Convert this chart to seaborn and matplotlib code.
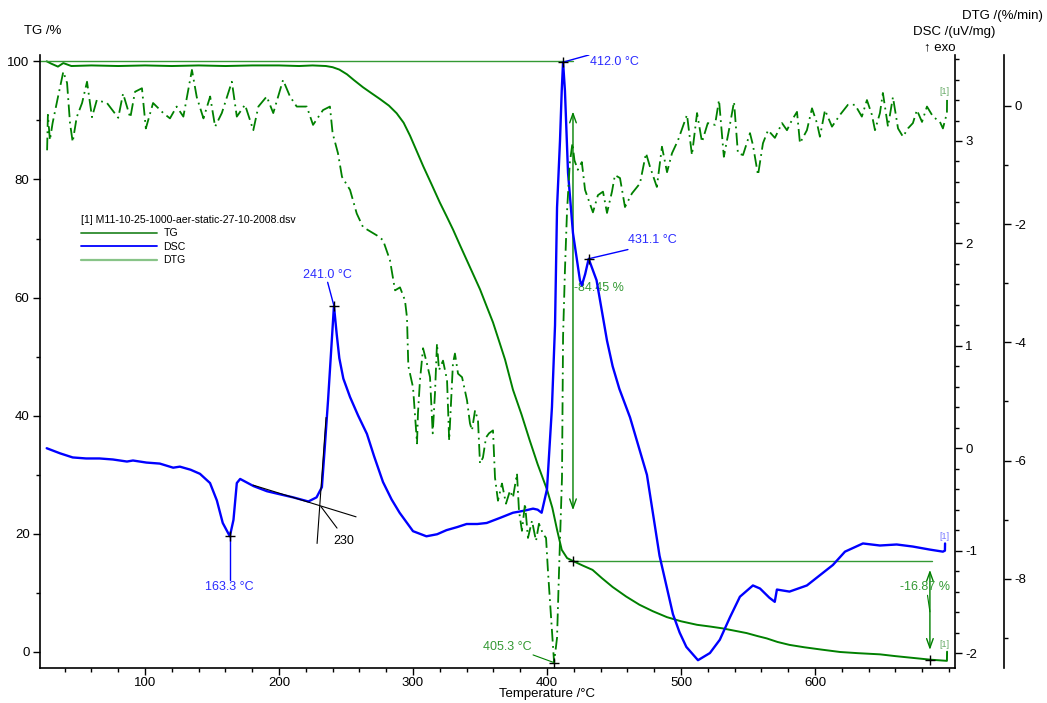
import matplotlib
matplotlib.use("Agg")
import matplotlib.pyplot as plt
import seaborn as sns
from matplotlib.lines import Line2D
from matplotlib.ticker import MultipleLocator

# ---- data ----
tg_temp = [26.6, 30, 35, 39, 45, 60, 80, 100, 120, 140, 160, 180, 200, 215, 225,
           235, 240, 245, 250.7, 256, 262.7, 269, 275.4, 282, 287.8, 293, 297.8,
           302, 307.7, 314, 320, 325, 329.9, 335, 340, 345, 350, 355, 359.7, 364,
           368.7, 374.6, 381, 387, 393, 400, 404, 407.5, 411, 415, 419.4, 427,
           434, 441, 449, 459, 469, 479, 489.5, 500, 512, 522, 531, 540, 549, 557,
           564, 572, 581, 592, 605, 618.7, 632, 648.5, 660, 673, 686, 698.5, 698.6]
tg_mass = [100.0, 99.6, 99.1, 99.7, 99.2, 99.3, 99.2, 99.3, 99.2, 99.3, 99.2, 99.3,
           99.3, 99.2, 99.3, 99.2, 99.0, 98.6, 97.8, 96.8, 95.6, 94.6, 93.6, 92.5,
           91.2, 89.6, 87.4, 85.2, 82.2, 79.1, 76.1, 73.8, 71.5, 68.9, 66.4, 63.9,
           61.4, 58.5, 55.8, 52.8, 49.5, 44.4, 40.2, 35.9, 31.8, 27.5, 24.4, 20.7,
           17.3, 15.9, 15.4, 14.6, 13.9, 12.5, 11.0, 9.4, 8.0, 6.9, 5.9, 5.2, 4.6,
           4.3, 4.0, 3.6, 3.2, 2.7, 2.3, 1.7, 1.2, 0.8, 0.4, 0.0, -0.2, -0.4,
           -0.7, -1.0, -1.3, -1.5, 0.05]

dsc_temp = [26.6, 36.6, 46, 56, 66, 76, 86.5, 91, 101, 111, 121, 126, 134, 141,
            148.5, 153.6, 158, 163.3, 166, 168.5, 171, 181, 191, 200.7, 210.6,
            221.9, 228, 232, 234, 236.6, 241.0, 243, 245, 248, 253, 259, 265.6, 271,
            277.6, 284, 290, 300, 310, 318, 325, 333, 340, 348, 355, 365, 374.6,
            383, 389.6, 393, 396, 400, 403.7, 406, 407.5, 409.7, 411, 412.0, 413.4,
            415.7, 419.4, 424.6, 426, 428.5, 431.1, 437, 444.8, 449, 454, 462,
            474.6, 484, 494, 499, 504, 512.7, 521.6, 529, 536.6, 544, 553.7, 559,
            566, 570, 571.6, 581, 594, 603.7, 613.4, 622.4, 635.8, 648.5, 661, 673,
            685.8, 695.5, 697, 697.1]
dsc_val = [0.00, -0.05, -0.09, -0.10, -0.10, -0.11, -0.13, -0.12, -0.14, -0.15,
           -0.19, -0.18, -0.21, -0.25, -0.34, -0.51, -0.73, -0.86, -0.70, -0.34,
           -0.30, -0.37, -0.42, -0.45, -0.48, -0.52, -0.48, -0.38, -0.02, 0.47,
           1.39, 1.12, 0.88, 0.68, 0.50, 0.32, 0.14, -0.08, -0.33, -0.50, -0.63, -0.81,
           -0.86, -0.84, -0.80, -0.77, -0.74, -0.74, -0.73, -0.68, -0.63, -0.61,
           -0.59, -0.60, -0.63, -0.40, 0.40, 1.20, 2.35, 3.00, 3.49, 3.77, 3.49,
           2.69, 2.10, 1.64, 1.59, 1.70, 1.85, 1.64, 1.05, 0.80, 0.58, 0.30,
           -0.26, -1.05, -1.62, -1.80, -1.94, -2.07, -2.00, -1.87, -1.65, -1.45,
           -1.34, -1.37, -1.46, -1.50, -1.38, -1.40, -1.34, -1.24, -1.14, -1.01,
           -0.93, -0.95, -0.94, -0.96, -0.99, -1.01, -1.00, -0.93]

dtg_temp = [26.9, 27.5, 29, 31, 35, 39, 41.8, 44, 46, 49, 53, 56.7, 60.4, 64, 71.6,
            80, 83.6, 89, 92.5, 97.7, 100.6, 106, 113.6, 118.6, 123.6, 128.6, 135,
            138.6, 143.6, 148.6, 152.3, 157.3, 164.8, 168.5, 174.6, 180.8, 184.6,
            190.8, 195.7, 203, 208.2, 213.2, 220.7, 225.4, 232.8, 238, 240, 244,
            247, 253, 258, 262.7, 273, 277.6, 282.8, 286.6, 290.3, 294, 295.5,
            296.5, 300, 303, 303.7, 305.2, 307.5, 310.4, 312.7, 314.7, 316.4,
            317.9, 319.4, 322.4, 325.4, 327, 329.8, 331.3, 333.6, 336.6, 340.3,
            342.5, 344, 346.3, 348.5, 350, 352.2, 354.5, 356.7, 359.7, 361.2,
            363.4, 366.4, 369.4, 372.4, 374.6, 377.6, 379.1, 381.3, 383.6, 385.8,
            388.8, 391.8, 394, 397, 399.3, 400.7, 403.7, 405.3, 407.5, 409, 411.2,
            412, 413.4, 414.9, 417, 419, 420.5, 423, 426, 428.4, 434.3, 438, 441.8,
            444.8, 448.5, 450.7, 454.5, 458.2, 463.4, 469.4, 473.9, 476.9, 482,
            485.8, 489.6, 493.3, 497.8, 504.5, 508.2, 512, 515.7, 520, 525.4,
            528.4, 532, 535.8, 539.6, 542.5, 546.3, 551.5, 553.7, 557.5, 561.2,
            565, 570.1, 575.4, 579.1, 582.8, 586.6, 588.8, 594, 597.8, 601.5,
            603.7, 607.5, 612.7, 618.7, 624.6, 629.9, 635, 638.8, 642.5, 644.8,
            648.5, 650.7, 654.5, 658.2, 662, 665.7, 669.4, 673.1, 676.1, 679.9,
            683.6, 688.1, 693.3, 695.5, 698.5, 698.6]
dtg_val = [-0.75, -0.15, -0.58, -0.29, 0.15, 0.58, 0.39, -0.29, -0.61, -0.19,
           0.05, 0.41, -0.19, 0.10, 0.05, -0.20, 0.21, -0.20, 0.24, 0.30, -0.38,
           0.05, -0.12, -0.21, -0.01, -0.18, 0.61, 0.15, -0.21, 0.16, -0.35,
           -0.12, 0.41, -0.18, 0.02, -0.41, -0.01, 0.16, -0.12, 0.44, 0.16, -0.01,
           -0.01, -0.32, -0.07, -0.01, -0.46, -0.80, -1.20, -1.42, -1.82, -2.05,
           -2.19, -2.27, -2.61, -3.12, -3.07, -3.29, -3.58, -4.40, -4.76, -5.71,
           -5.20, -4.64, -4.10, -4.36, -4.59, -5.54, -4.86, -4.02, -4.47, -4.31,
           -4.64, -5.66, -4.36, -4.19, -4.53, -4.59, -4.98, -5.37, -5.49, -5.15,
           -5.32, -6.05, -5.95, -5.61, -5.54, -5.49, -6.29, -6.68, -6.39, -6.73,
           -6.51, -6.63, -6.22, -6.85, -7.19, -6.73, -7.31, -7.02, -7.36, -7.07,
           -7.24, -7.31, -7.86, -8.88, -9.42, -9.00, -7.86, -6.29, -3.90, -2.78,
           -1.81, -0.97, -0.63, -0.92, -1.08, -0.95, -1.42, -1.80, -1.51, -1.45,
           -1.81, -1.45, -1.17, -1.22, -1.71, -1.48, -1.31, -0.80, -1.03, -1.37,
           -0.69, -1.12, -0.80, -0.58, -0.15, -0.83, -0.12, -0.61, -0.29, -0.32,
           0.10, -0.86, -0.41, 0.07, -0.80, -0.83, -0.46, -0.66, -1.17, -0.63,
           -0.41, -0.54, -0.29, -0.41, -0.24, -0.10, -0.63, -0.41, -0.04, -0.29,
           -0.52, -0.07, -0.35, -0.15, 0.02, 0.02, -0.18, 0.10, -0.15, -0.41,
           -0.12, 0.22, -0.35, 0.15, -0.38, -0.52, -0.38, -0.29, -0.07, -0.27,
           -0.01, -0.18, -0.27, -0.38, -0.12, 0.14]

# peak / step annotations
dsc_peaks_temp = [163.3, 241.0, 412.0, 431.1]
dsc_peaks_val = [-0.86, 1.39, 3.77, 1.85]
dtg_peak_temp = 405.3
dtg_peak_val = -9.42
tg_step_temps = [419.4, 685.8]
tg_step_levels = [100.0, 15.45, -1.42]
tg_step_labels = ["-84.45 %", "-16.87 %"]
onset_label = "230"

GREEN = "#008000"
LGREEN = "#339933"
BLUE = "#0000ff"
LBLUE = "#2b2bff"
FS = 9.5

sns.set_style("ticks", {"axes.edgecolor": "black", "xtick.color": "black",
                        "ytick.color": "black", "text.color": "black"})
plt.rcParams["font.family"] = ["Liberation Sans", "DejaVu Sans"]
plt.rcParams["font.size"] = FS
plt.rcParams["axes.unicode_minus"] = False

fig = plt.figure(figsize=(10.47, 7.03), dpi=100)
ax = fig.add_axes([0.0382, 0.0498, 0.8739, 0.872])
ax2 = ax.twinx()
ax3 = ax.twinx()
ax3.spines["right"].set_position(("axes", 1.0536))

sns.lineplot(x=tg_temp, y=tg_mass, ax=ax, color=GREEN, lw=1.4,
             sort=False, estimator=None)
sns.lineplot(x=dsc_temp, y=dsc_val, ax=ax2, color=BLUE, lw=1.7,
             sort=False, estimator=None)
sns.lineplot(x=dtg_temp, y=dtg_val, ax=ax3, color=GREEN, lw=1.3,
             sort=False, estimator=None, linestyle=(0, (7, 2.5, 1, 2.5)))

ax.set_xlim(21.6, 704.5)
ax.set_ylim(-2.71, 101.07)
ax2.set_ylim(-2.146, 3.84)
ax3.set_ylim(-9.511, 0.863)

for a in (ax, ax2, ax3):
    a.set_xlabel("")
    a.set_ylabel("")
    a.spines["top"].set_visible(False)
    a.tick_params(which="major", direction="out", length=5, width=1, labelsize=FS, pad=2.5)
    a.tick_params(which="minor", direction="out", length=3, width=1)
ax.tick_params(axis="x", which="major", pad=1.5)
ax.spines["right"].set_visible(False)
for a in (ax2, ax3):
    a.spines["left"].set_visible(False)
    a.spines["bottom"].set_visible(False)
for sp in ["left", "bottom"]:
    ax.spines[sp].set_linewidth(1.2)
ax2.spines["right"].set_linewidth(1.2)
ax3.spines["right"].set_linewidth(1.2)

ax.set_xticks([100, 200, 300, 400, 500, 600])
ax.xaxis.set_minor_locator(MultipleLocator(20))
ax.set_yticks([0, 20, 40, 60, 80, 100])
ax.yaxis.set_minor_locator(MultipleLocator(10))
ax2.set_yticks([-2, -1, 0, 1, 2, 3])
ax2.yaxis.set_minor_locator(MultipleLocator(0.2))
ax3.set_yticks([-8, -6, -4, -2, 0])
ax3.yaxis.set_minor_locator(MultipleLocator(1))

# TG step lines and arrows
ax.plot([ax.get_xlim()[0], tg_step_temps[0]], [tg_step_levels[0]] * 2, color=LGREEN, lw=1)
ax.plot([tg_step_temps[0], tg_step_temps[1] + 1.5], [tg_step_levels[1]] * 2, color=LGREEN, lw=1)
arrow = dict(arrowstyle="<->,head_length=0.7,head_width=0.25", color=GREEN, lw=1,
             shrinkA=0, shrinkB=0)
ax.annotate("", xy=(tg_step_temps[0], 24.0), xytext=(tg_step_temps[0], 91.5), arrowprops=arrow)
ax.annotate("", xy=(tg_step_temps[1], 0.35), xytext=(tg_step_temps[1], 13.9), arrowprops=arrow)
ax.text(tg_step_temps[0] + 1, 61.6, tg_step_labels[0], color=LGREEN, ha="left", va="center", fontsize=9)
ax.text(682.5, 11.0, tg_step_labels[1], color=LGREEN, ha="center", va="center", fontsize=9)
ax.plot([684.0, 685.8], [9.6, 6.8], color=GREEN, lw=0.8)
ax.plot(tg_step_temps, tg_step_levels[1:], ls="none", marker="+", color="black", ms=7, mew=1)

# DSC peak markers and labels
ax2.plot(dsc_peaks_temp, dsc_peaks_val, ls="none", marker="+", color="black", ms=7, mew=1, zorder=5)
ax2.plot([163.3, 163.3], [-0.86, -1.29], color=BLUE, lw=1)
ax2.text(162.7, -1.36, "163.3 °C", color=LBLUE, ha="center", va="center", fontsize=9)
ax2.plot([241.0, 236.3], [1.39, 1.62], color=BLUE, lw=1)
ax2.text(235.8, 1.69, "241.0 °C", color=LBLUE, ha="center", va="center", fontsize=9)
ax2.plot([412.0, 431.3], [3.77, 3.84], color=BLUE, lw=1)
ax2.text(432.0, 3.77, "412.0 °C", color=LBLUE, ha="left", va="center", fontsize=9)
ax2.plot([431.1, 460.4], [1.85, 1.94], color=BLUE, lw=1)
ax2.text(460.6, 2.03, "431.1 °C", color=LBLUE, ha="left", va="center", fontsize=9)

# onset construction
ax2.plot([228.4, 235.1], [-0.93, 0.30], color="black", lw=0.8)
ax2.plot([180.6, 257.5], [-0.36, -0.67], color="black", lw=0.8)
ax2.plot([231.3, 243.3], [-0.57, -0.78], color="black", lw=0.8)
ax2.text(240.3, -0.91, onset_label, color="black", ha="left", va="center", fontsize=9)

# DTG peak
ax3.plot([dtg_peak_temp], [dtg_peak_val], ls="none", marker="+", color="black", ms=7, mew=1)
ax3.plot([dtg_peak_temp, 389.6], [dtg_peak_val, -9.29], color=GREEN, lw=0.8)
ax3.text(388.8, -9.16, "405.3 °C", color=LGREEN, ha="right", va="center", fontsize=9)

# curve end tags
ax2.text(696.3, -0.86, "[1]", color="#7777ff", ha="center", va="center", fontsize=6.5)
ax3.text(696.8, 0.24, "[1]", color="#66aa66", ha="center", va="center", fontsize=6.5)
ax.text(697.0, 1.2, "[1]", color="#66aa66", ha="center", va="center", fontsize=6.5)

# legend
handles = [Line2D([], [], color="#2e8b2e", lw=1.3),
           Line2D([], [], color=BLUE, lw=1.3),
           Line2D([], [], color="#88c488", lw=1.6)]
leg = ax.legend(handles, ["TG", "DSC", "DTG"],
                title="[1] M11-10-25-1000-aer-static-27-10-2008.dsv",
                loc="upper left", bbox_to_anchor=(81 / 1047, 1 - 215 / 703),
                bbox_transform=fig.transFigure, frameon=False, fontsize=7.6,
                title_fontsize=7.6, handlelength=7.2, handletextpad=0.6,
                labelspacing=0.33, borderpad=0, borderaxespad=0, alignment="left")

# axis titles
fig.text(24 / 1047, 1 - 31 / 703, "TG /%", ha="left", va="center", fontsize=FS)
fig.text(547 / 1047, 1 - 694 / 703, "Temperature /°C", ha="center", va="center", fontsize=FS)
fig.text(995 / 1047, 1 - 32 / 703, "DSC /(uV/mg)", ha="right", va="center", fontsize=FS)
fig.text(955 / 1047, 1 - 47 / 703, "↑ exo", ha="right", va="center", fontsize=FS)
fig.text(1043 / 1047, 1 - 16 / 703, "DTG /(%/min)", ha="right", va="center", fontsize=FS)

fig.savefig("out.png", dpi=100)
